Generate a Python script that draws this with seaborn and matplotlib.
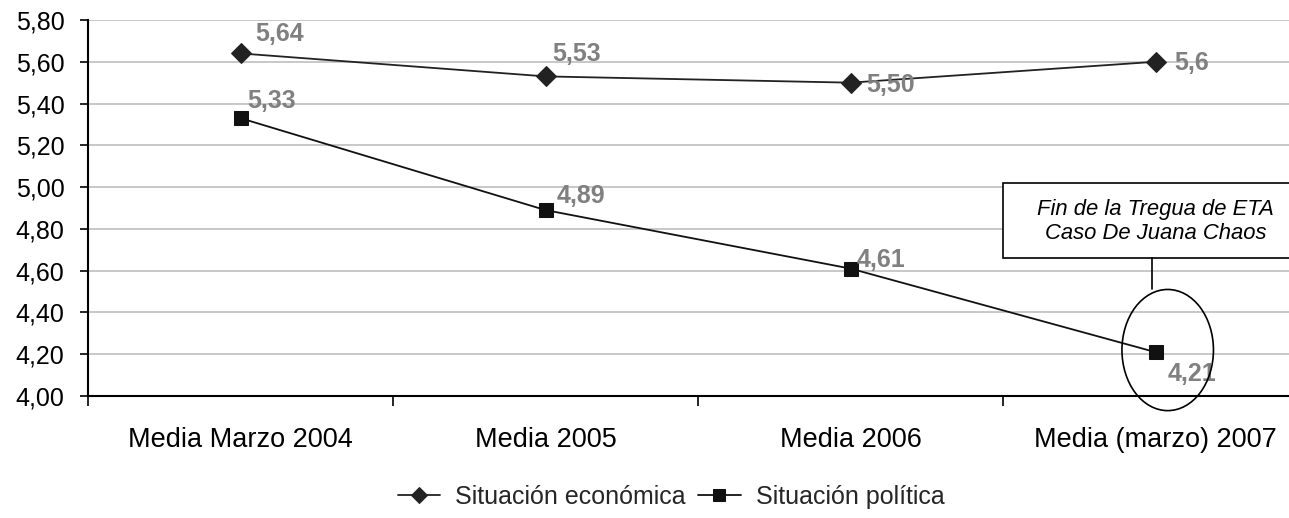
import matplotlib
matplotlib.use("Agg")
import matplotlib.pyplot as plt
import seaborn as sns
import pandas as pd
from matplotlib.patches import Ellipse, Rectangle

periodos = ["Media Marzo 2004", "Media 2005", "Media 2006", "Media (marzo) 2007"]
economica = [5.64, 5.53, 5.50, 5.60]
politica = [5.33, 4.89, 4.61, 4.21]
etiquetas_eco = ["5,64", "5,53", "5,50", "5,6"]
etiquetas_pol = ["5,33", "4,89", "4,61", "4,21"]
serie_eco = "Situación económica"
serie_pol = "Situación política"
y_ticks = [4.00, 4.20, 4.40, 4.60, 4.80, 5.00, 5.20, 5.40, 5.60, 5.80]
nota = "Fin de la Tregua de ETA\nCaso De Juana Chaos"

sns.set_theme(style="white")
plt.rcParams["font.family"] = ["Liberation Sans", "DejaVu Sans"]

df = pd.DataFrame({
    "periodo": periodos * 2,
    "valor": economica + politica,
    "serie": [serie_eco] * 4 + [serie_pol] * 4,
})

W, H = 1289, 518
fig = plt.figure(figsize=(W / 100, H / 100), dpi=100)
ax = fig.add_axes([88 / W, 122 / H, 1220 / W, 376 / H])

sns.lineplot(data=df, x="periodo", y="valor", hue="serie", style="serie",
             markers={serie_eco: "D", serie_pol: "s"}, dashes=False,
             palette={serie_eco: "#222222", serie_pol: "#111111"},
             linewidth=1.3, markersize=10, sort=False, ax=ax, zorder=3)
for ln in ax.lines:
    ln.set_markeredgecolor(ln.get_color())
    ln.set_markerfacecolor(ln.get_color())

ax.set_xlim(-0.5, 3.5)
ax.set_ylim(4.0, 5.8)
ax.set_yticks(y_ticks)
ax.set_yticklabels([f"{v:.2f}".replace(".", ",") for v in y_ticks])
ax.set_xlabel("")
ax.set_ylabel("")
ax.yaxis.grid(True, color="#bfbfbf", linewidth=1.2)
ax.set_axisbelow(True)
for s in ["top", "right"]:
    ax.spines[s].set_visible(False)
for s in ["left", "bottom"]:
    ax.spines[s].set_color("black")
    ax.spines[s].set_linewidth(1.5)
ax.tick_params(axis="y", left=True, length=6, width=1.2, color="black",
               labelsize=18, pad=11, labelcolor="black")
ax.set_xticks(range(len(periodos)))
ax.set_xticklabels(periodos)
ax.tick_params(axis="x", which="major", length=0, labelsize=19.5, pad=22,
               labelcolor="black")
ax.set_xticks([-0.5, 0.5, 1.5, 2.5, 3.5], minor=True)
ax.tick_params(axis="x", which="minor", bottom=True, length=7, width=1.2,
               color="black")

off_eco = [(15, 19), (7, 22.5), (16, -2), (19, -1)]
off_pol = [(7, 17), (11, 14.5), (6, 9), (12, -22)]
for i in range(4):
    ax.annotate(etiquetas_eco[i], (i, economica[i]), xytext=off_eco[i],
                textcoords="offset pixels", ha="left", va="center",
                fontsize=18, fontweight="bold", color="#808080", zorder=5)
    ax.annotate(etiquetas_pol[i], (i, politica[i]), xytext=off_pol[i],
                textcoords="offset pixels", ha="left", va="center",
                fontsize=18, fontweight="bold", color="#808080", zorder=5)

ax.add_patch(Ellipse((3.04, 4.22), 0.30, 0.58, fill=False, edgecolor="black",
                     linewidth=1.2, clip_on=False, zorder=6))
ax.add_patch(Rectangle((2.5, 4.661), 1.0, 0.359, facecolor="white",
                       edgecolor="black", linewidth=1.2, clip_on=False, zorder=6))
ax.plot([2.987, 2.987], [4.512, 4.661], color="black", linewidth=1.2,
        clip_on=False, zorder=6)
ax.text(3.0, 4.835, nota, ha="center", va="center", fontsize=15.8,
        fontstyle="italic", color="black", linespacing=1.15, zorder=7)

handles, labels = ax.get_legend_handles_labels()
ax.get_legend().remove()
for h in handles:
    h.set_markersize(8)
fig.legend(handles, labels, loc="center", bbox_to_anchor=(671 / W, 1 - 497 / H),
           ncol=2, frameon=False, fontsize=18, handlelength=1.7,
           handletextpad=0.6, columnspacing=0.5)

fig.savefig("out.png", dpi=100)
